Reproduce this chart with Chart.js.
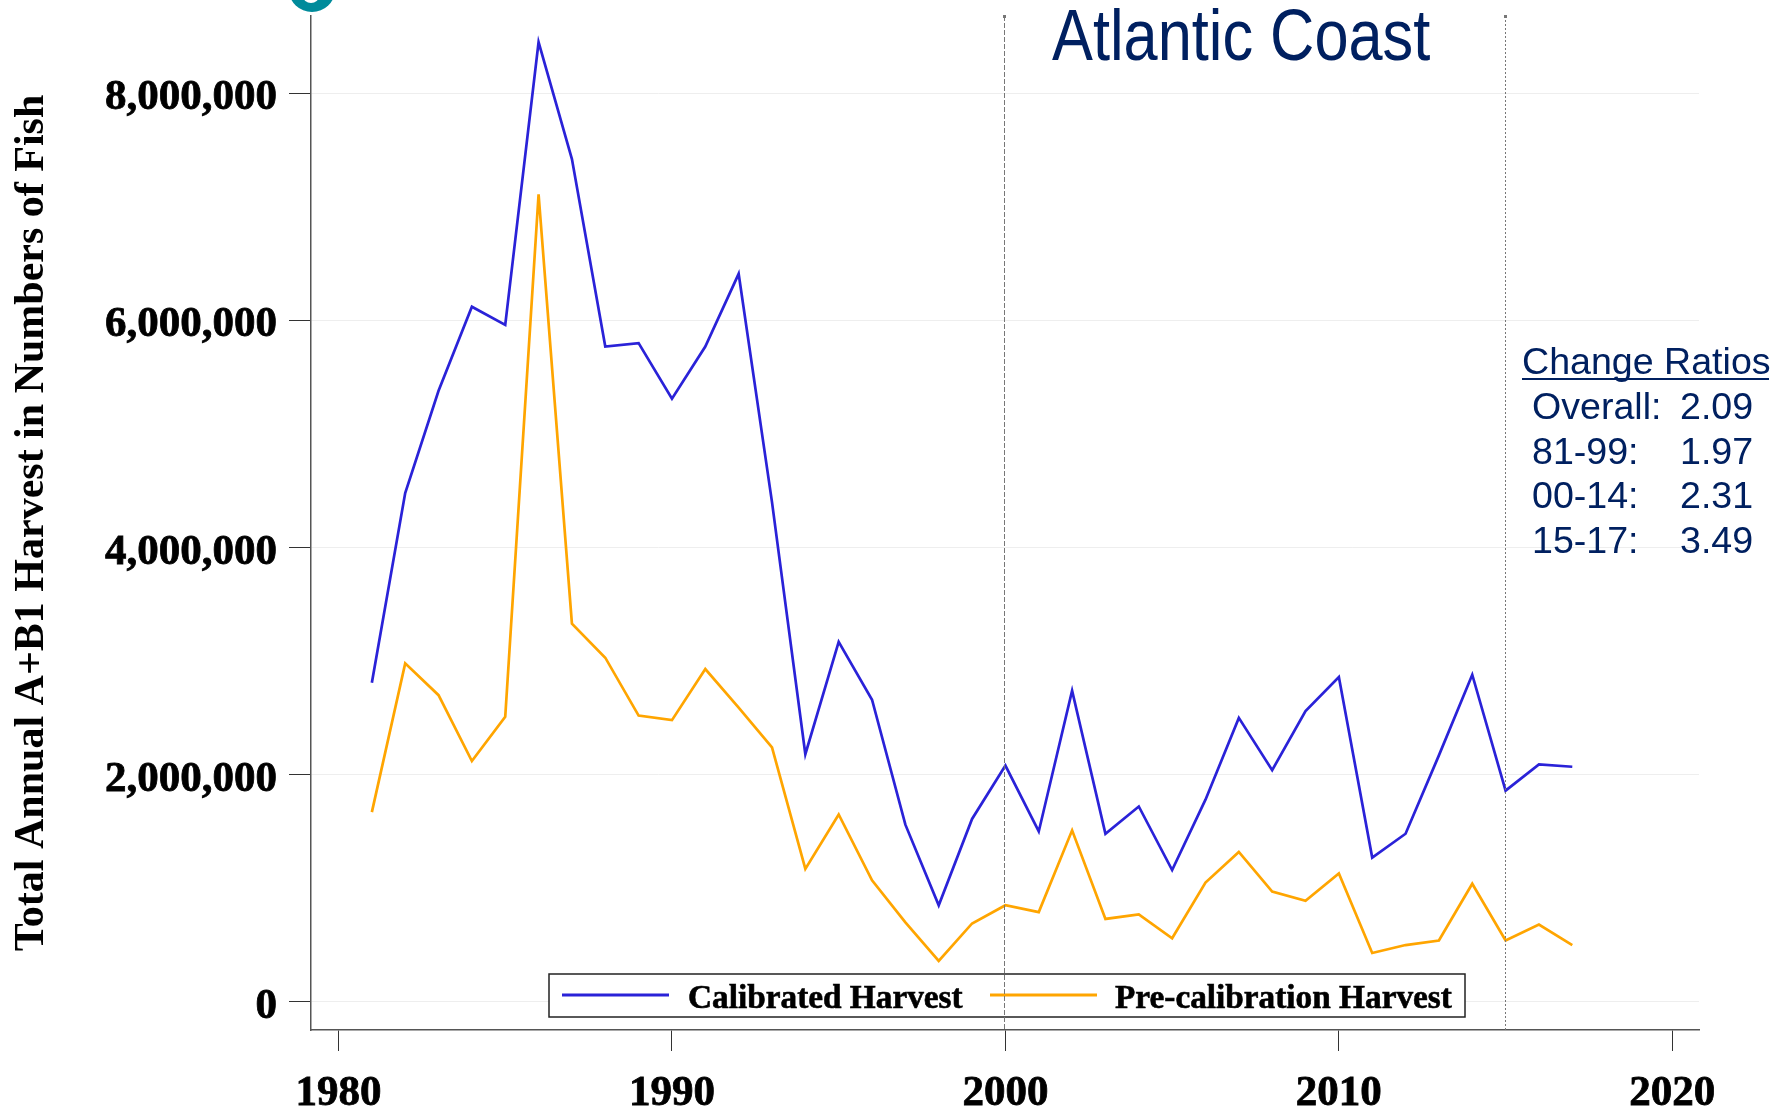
<!DOCTYPE html>
<html>
<head>
<meta charset="utf-8">
<title>Atlantic Coast</title>
<script src="https://cdn.jsdelivr.net/npm/chart.js@4"></script>
<style>
    html, body { margin: 0; padding: 0; background: #fff; }
    canvas { display: block; }
</style>
</head>
<body>
<canvas id="harvestChart" width="1789" height="1110"></canvas>
<script>
const years = [1981, 1982, 1983, 1984, 1985, 1986, 1987, 1988, 1989, 1990, 1991, 1992, 1993,
    1994, 1995, 1996, 1997, 1998, 1999, 2000, 2001, 2002, 2003, 2004, 2005, 2006, 2007,
    2008, 2009, 2010, 2011, 2012, 2013, 2014, 2015, 2016, 2017];

const calibrated = [2810000, 4480000, 5380000, 6120000, 5960000, 8450000, 7420000, 5770000,
    5800000, 5310000, 5770000, 6410000, 4400000, 2180000, 3170000, 2660000, 1560000, 850000,
    1610000, 2080000, 1500000, 2740000, 1480000, 1720000, 1160000, 1780000, 2500000, 2040000,
    2560000, 2860000, 1270000, 1480000, 2170000, 2880000, 1860000, 2090000, 2070000];

const preCalibration = [1670000, 2980000, 2700000, 2120000, 2510000, 7110000, 3330000, 3030000,
    2520000, 2480000, 2930000, 2590000, 2240000, 1170000, 1650000, 1070000, 700000, 360000,
    690000, 850000, 790000, 1510000, 730000, 770000, 560000, 1050000, 1320000, 970000,
    890000, 1130000, 430000, 500000, 540000, 1040000, 540000, 680000, 500000];

const xTicks = [1980, 1990, 2000, 2010, 2020];
const yTicks = [0, 2000000, 4000000, 6000000, 8000000];
const periodLines = [2000, 2015];

const ratioLabels = ["Overall:", "81-99:", "00-14:", "15-17:"];
const ratioValues = ["2.09", "1.97", "2.31", "3.49"];

const NAVY = "#002060";
const SERIF = "'Liberation Serif', serif";
const SANS = "'Liberation Sans', sans-serif";

// everything the library has no element for: title, notes, legend box, period lines
const annotations = {
    id: "annotations",
    beforeDraw(chart) {
        // y labels sit a little below their tick in the original
        chart.scales.y.getLabelItems().forEach(item => { item.textOffset = 5; });
    },
    afterDraw(chart) {
        const { ctx, scales, chartArea } = chart;
        ctx.save();

        // cut off badge above the axis
        ctx.fillStyle = "#008b9b";
        ctx.beginPath();
        ctx.ellipse(312, -10, 23, 22, 0, 0, Math.PI * 2);
        ctx.fill();
        ctx.fillStyle = "#fff";
        ctx.beginPath();
        ctx.ellipse(311, -4, 8, 7, 0, 0, Math.PI * 2);
        ctx.fill();

        // legend box sits under the period line
        const box = { x: 549, y: 974, w: 916, h: 43 };
        ctx.fillStyle = "#fff";
        ctx.fillRect(box.x, box.y, box.w, box.h);
        ctx.strokeStyle = "#222";
        ctx.lineWidth = 1.5;
        ctx.strokeRect(box.x, box.y, box.w, box.h);

        const entries = [
            { line: 562, text: 688 },
            { line: 990, text: 1115 }
        ];
        ctx.font = "bold 33.3px " + SERIF;
        ctx.textBaseline = "middle";
        ctx.textAlign = "left";
        chart.data.datasets.forEach((ds, i) => {
            ctx.strokeStyle = ds.borderColor;
            ctx.lineWidth = 3;
            ctx.beginPath();
            ctx.moveTo(entries[i].line, 995);
            ctx.lineTo(entries[i].line + 107, 995);
            ctx.stroke();
            ctx.fillStyle = "#000";
            ctx.strokeStyle = "#000";
            ctx.lineWidth = 0.6;
            ctx.fillText(ds.label, entries[i].text, 999);
            ctx.strokeText(ds.label, entries[i].text, 999);
        });

        // period lines
        ctx.strokeStyle = "#777";
        ctx.lineWidth = 1;
        periodLines.forEach((yr, i) => {
            const px = Math.round(scales.x.getPixelForValue(yr)) - 0.5;
            ctx.setLineDash(i === 0 ? [5, 2] : [2, 2]);
            ctx.beginPath();
            ctx.moveTo(px, chartArea.top);
            ctx.lineTo(px, chartArea.bottom);
            ctx.stroke();
            ctx.setLineDash([]);
            ctx.fillStyle = "#777";
            ctx.fillRect(px - 1.5, chartArea.top - 1, 3, 3);
        });

        // title, stretched tall like the original
        ctx.fillStyle = NAVY;
        ctx.textBaseline = "alphabetic";
        ctx.save();
        ctx.translate(1052, 60);
        ctx.scale(0.84, 1);
        ctx.font = "73px " + SANS;
        ctx.fillText("Atlantic Coast", 0, 0);
        ctx.restore();

        // change ratios
        ctx.font = "37.6px " + SANS;
        ctx.fillText("Change Ratios", 1522, 374);
        ctx.fillRect(1522, 378, 247, 2);
        ratioLabels.forEach((label, i) => {
            const y = 419 + i * 44.6;
            ctx.fillText(label, 1532, y);
            ctx.fillText(ratioValues[i], 1680, y);
        });

        ctx.restore();
    }
};

const ctx = document.getElementById("harvestChart").getContext("2d");

new Chart(ctx, {
    type: "line",
    data: {
        datasets: [
            {
                label: "Calibrated Harvest",
                data: years.map((yr, i) => ({ x: yr, y: calibrated[i] })),
                borderColor: "#2a22d8",
                borderWidth: 2.7,
                pointRadius: 0,
                tension: 0
            },
            {
                label: "Pre-calibration Harvest",
                data: years.map((yr, i) => ({ x: yr, y: preCalibration[i] })),
                borderColor: "#ffa500",
                borderWidth: 2.7,
                pointRadius: 0,
                tension: 0
            }
        ]
    },
    plugins: [annotations],
    options: {
        responsive: false,
        animation: false,
        layout: { padding: { top: 16, right: 90, left: 0, bottom: 0 } },
        plugins: {
            legend: { display: false },
            tooltip: { enabled: false }
        },
        scales: {
            x: {
                type: "linear",
                min: 1979.175,
                max: 2020.8,
                afterBuildTicks: scale => { scale.ticks = xTicks.map(v => ({ value: v })); },
                afterFit: scale => {
                    scale.height = 80;
                    scale.paddingLeft = 0;
                    scale.paddingRight = 0;
                },
                border: { color: "#555", width: 1.5 },
                grid: { drawOnChartArea: false, tickLength: 21, tickColor: "#333", tickWidth: 1 },
                ticks: {
                    color: "#000",
                    maxRotation: 0,
                    autoSkip: false,
                    padding: 17,
                    textStrokeColor: "#000",
                    textStrokeWidth: 0.8,
                    font: { family: SERIF, size: 43, weight: "bold" },
                    callback: v => String(v)
                }
            },
            y: {
                type: "linear",
                min: -248000,
                max: 8680000,
                afterBuildTicks: scale => { scale.ticks = yTicks.map(v => ({ value: v })); },
                afterFit: scale => {
                    scale.width = 311;
                    scale.paddingTop = 0;
                    scale.paddingBottom = 0;
                },
                border: { color: "#555", width: 1.5 },
                grid: { color: "#eeeeee", lineWidth: 1, tickLength: 22, tickColor: "#333" },
                ticks: {
                    color: "#000",
                    autoSkip: false,
                    padding: 12,
                    textStrokeColor: "#000",
                    textStrokeWidth: 0.8,
                    font: { family: SERIF, size: 43, weight: "bold" },
                    callback: v => v.toLocaleString("en-US")
                },
                title: {
                    display: true,
                    text: "Total Annual A+B1 Harvest in Numbers of Fish",
                    color: "#000",
                    padding: { top: 7, bottom: 0 },
                    font: { family: SERIF, size: 42, weight: "bold" }
                }
            }
        }
    }
});
</script>
</body>
</html>
